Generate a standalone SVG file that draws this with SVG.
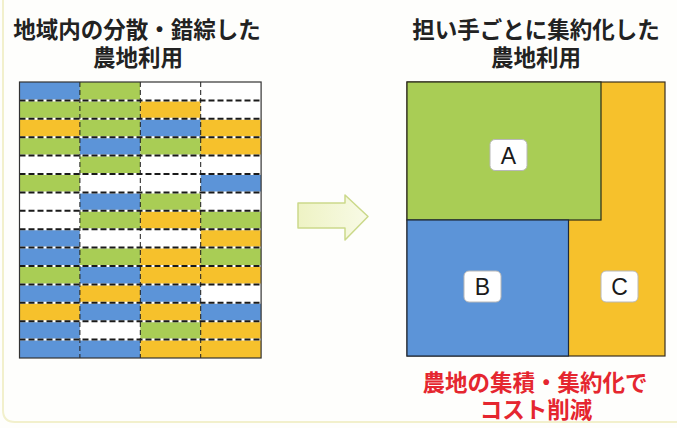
<svg xmlns="http://www.w3.org/2000/svg" width="677" height="428" viewBox="0 0 677 428">
<defs>
<style>
.t{font-family:"Liberation Sans","Noto Sans CJK JP",sans-serif;font-weight:bold;font-size:22.5px;fill:#222;text-anchor:middle}
.r{fill:#e5262f}
.b{fill:#5c94d8}.g{fill:#a9cd55}.o{fill:#f6c12c}.w{fill:#ffffff}
.hd{stroke:#1a1a1a;stroke-width:2;stroke-dasharray:6 3;fill:none}
.hw{stroke:#ffffff;stroke-width:2;fill:none}
.vd{stroke:#1a1a1a;stroke-width:1;stroke-dasharray:5 3;fill:none}
.lab{fill:#ffffff;stroke:#b8b8b8;stroke-width:1}
.lt{font-family:"Liberation Sans",Arial,sans-serif;font-size:23px;fill:#1a1a1a;text-anchor:middle}
</style>
<linearGradient id="ag" x1="0" y1="0" x2="1" y2="0">
<stop offset="0" stop-color="#eef3c4"/><stop offset="1" stop-color="#f8fae6"/>
</linearGradient>
</defs>
<rect width="677" height="428" fill="#fefefc"/>
<path d="M3,0 V410 Q3,422 15,422 H677" fill="none" stroke="#f2f0cc" stroke-width="2"/>

<g id="title-left">
<text class="t"><tspan x="137" y="37.5">地域内の分散・錯綜した</tspan><tspan x="138" y="66">農地利用</tspan></text>
</g>
<g id="title-right">
<text class="t"><tspan x="536" y="37.5">担い手ごとに集約化した</tspan><tspan x="536" y="66">農地利用</tspan></text>
</g>

<g id="grid-left">
<g id="cells">
<rect class="b" x="19.5" y="82" width="60.4" height="18.4"/><rect class="g" x="79.9" y="82" width="60.4" height="18.4"/><rect class="w" x="140.3" y="82" width="60.4" height="18.4"/><rect class="w" x="200.7" y="82" width="60.4" height="18.4"/>
<rect class="g" x="19.5" y="100.4" width="60.4" height="18.4"/><rect class="g" x="79.9" y="100.4" width="60.4" height="18.4"/><rect class="o" x="140.3" y="100.4" width="60.4" height="18.4"/><rect class="w" x="200.7" y="100.4" width="60.4" height="18.4"/>
<rect class="o" x="19.5" y="118.8" width="60.4" height="18.4"/><rect class="g" x="79.9" y="118.8" width="60.4" height="18.4"/><rect class="b" x="140.3" y="118.8" width="60.4" height="18.4"/><rect class="o" x="200.7" y="118.8" width="60.4" height="18.4"/>
<rect class="g" x="19.5" y="137.2" width="60.4" height="18.4"/><rect class="b" x="79.9" y="137.2" width="60.4" height="18.4"/><rect class="g" x="140.3" y="137.2" width="60.4" height="18.4"/><rect class="o" x="200.7" y="137.2" width="60.4" height="18.4"/>
<rect class="w" x="19.5" y="155.6" width="60.4" height="18.4"/><rect class="g" x="79.9" y="155.6" width="60.4" height="18.4"/><rect class="w" x="140.3" y="155.6" width="60.4" height="18.4"/><rect class="w" x="200.7" y="155.6" width="60.4" height="18.4"/>
<rect class="g" x="19.5" y="174" width="60.4" height="18.4"/><rect class="w" x="79.9" y="174" width="60.4" height="18.4"/><rect class="w" x="140.3" y="174" width="60.4" height="18.4"/><rect class="b" x="200.7" y="174" width="60.4" height="18.4"/>
<rect class="w" x="19.5" y="192.4" width="60.4" height="18.4"/><rect class="b" x="79.9" y="192.4" width="60.4" height="18.4"/><rect class="g" x="140.3" y="192.4" width="60.4" height="18.4"/><rect class="w" x="200.7" y="192.4" width="60.4" height="18.4"/>
<rect class="w" x="19.5" y="210.8" width="60.4" height="18.4"/><rect class="g" x="79.9" y="210.8" width="60.4" height="18.4"/><rect class="o" x="140.3" y="210.8" width="60.4" height="18.4"/><rect class="g" x="200.7" y="210.8" width="60.4" height="18.4"/>
<rect class="b" x="19.5" y="229.2" width="60.4" height="18.4"/><rect class="w" x="79.9" y="229.2" width="60.4" height="18.4"/><rect class="w" x="140.3" y="229.2" width="60.4" height="18.4"/><rect class="o" x="200.7" y="229.2" width="60.4" height="18.4"/>
<rect class="b" x="19.5" y="247.6" width="60.4" height="18.4"/><rect class="g" x="79.9" y="247.6" width="60.4" height="18.4"/><rect class="o" x="140.3" y="247.6" width="60.4" height="18.4"/><rect class="g" x="200.7" y="247.6" width="60.4" height="18.4"/>
<rect class="g" x="19.5" y="266" width="60.4" height="18.4"/><rect class="b" x="79.9" y="266" width="60.4" height="18.4"/><rect class="o" x="140.3" y="266" width="60.4" height="18.4"/><rect class="o" x="200.7" y="266" width="60.4" height="18.4"/>
<rect class="b" x="19.5" y="284.4" width="60.4" height="18.4"/><rect class="o" x="79.9" y="284.4" width="60.4" height="18.4"/><rect class="b" x="140.3" y="284.4" width="60.4" height="18.4"/><rect class="w" x="200.7" y="284.4" width="60.4" height="18.4"/>
<rect class="o" x="19.5" y="302.8" width="60.4" height="18.4"/><rect class="b" x="79.9" y="302.8" width="60.4" height="18.4"/><rect class="o" x="140.3" y="302.8" width="60.4" height="18.4"/><rect class="b" x="200.7" y="302.8" width="60.4" height="18.4"/>
<rect class="b" x="19.5" y="321.2" width="60.4" height="18.4"/><rect class="w" x="79.9" y="321.2" width="60.4" height="18.4"/><rect class="g" x="140.3" y="321.2" width="60.4" height="18.4"/><rect class="o" x="200.7" y="321.2" width="60.4" height="18.4"/>
<rect class="b" x="19.5" y="339.6" width="60.4" height="18.4"/><rect class="b" x="79.9" y="339.6" width="60.4" height="18.4"/><rect class="o" x="140.3" y="339.6" width="60.4" height="18.4"/><rect class="o" x="200.7" y="339.6" width="60.4" height="18.4"/>
</g>
<g id="gridlines">
<path class="hw" d="M19.5,100.4H261.1M19.5,118.8H261.1M19.5,137.2H261.1M19.5,155.6H261.1M19.5,174H261.1M19.5,192.4H261.1M19.5,210.8H261.1M19.5,229.2H261.1M19.5,247.6H261.1M19.5,266H261.1M19.5,284.4H261.1M19.5,302.8H261.1M19.5,321.2H261.1M19.5,339.6H261.1"/>
<path class="hd" d="M19.5,100.4H261.1M19.5,118.8H261.1M19.5,137.2H261.1M19.5,155.6H261.1M19.5,174H261.1M19.5,192.4H261.1M19.5,210.8H261.1M19.5,229.2H261.1M19.5,247.6H261.1M19.5,266H261.1M19.5,284.4H261.1M19.5,302.8H261.1M19.5,321.2H261.1M19.5,339.6H261.1"/>
<path class="vd" d="M79.9,82V358M140.3,82V358M200.7,82V358"/>
<rect x="19.5" y="82" width="241.6" height="276" fill="none" stroke="#333" stroke-width="1.2"/>
</g>
</g>

<g id="arrow">
<path d="M298,203 H345 V195 L368,216.5 L345,240 V228 H298 Z" fill="url(#ag)" stroke="#cbd98a" stroke-width="1.5" stroke-linejoin="round"/>
</g>

<g id="consolidated">
<g id="field-C">
<rect x="407" y="82" width="258" height="274" class="o" stroke="#3a3020" stroke-width="1.2"/>
</g>
<g id="field-A">
<rect x="407" y="82" width="194" height="138" class="g" stroke="#2a2a1a" stroke-width="1.2"/>
<rect class="lab" x="490" y="139.5" width="37" height="31" rx="5"/>
<text class="lt" x="508.5" y="163.5">A</text>
</g>
<g id="field-B">
<rect x="407" y="220" width="161.5" height="136" class="b" stroke="#1e2a3a" stroke-width="1.2"/>
<rect class="lab" x="464" y="271" width="37" height="31" rx="5"/>
<text class="lt" x="482.5" y="295">B</text>
<rect class="lab" x="601" y="271" width="37" height="31" rx="5"/>
<text class="lt" x="619.5" y="295">C</text>
</g>
</g>

<g id="caption">
<text class="t r"><tspan x="535" y="390.5">農地の集積・集約化で</tspan><tspan x="536" y="418">コスト削減</tspan></text>
</g>
</svg>
